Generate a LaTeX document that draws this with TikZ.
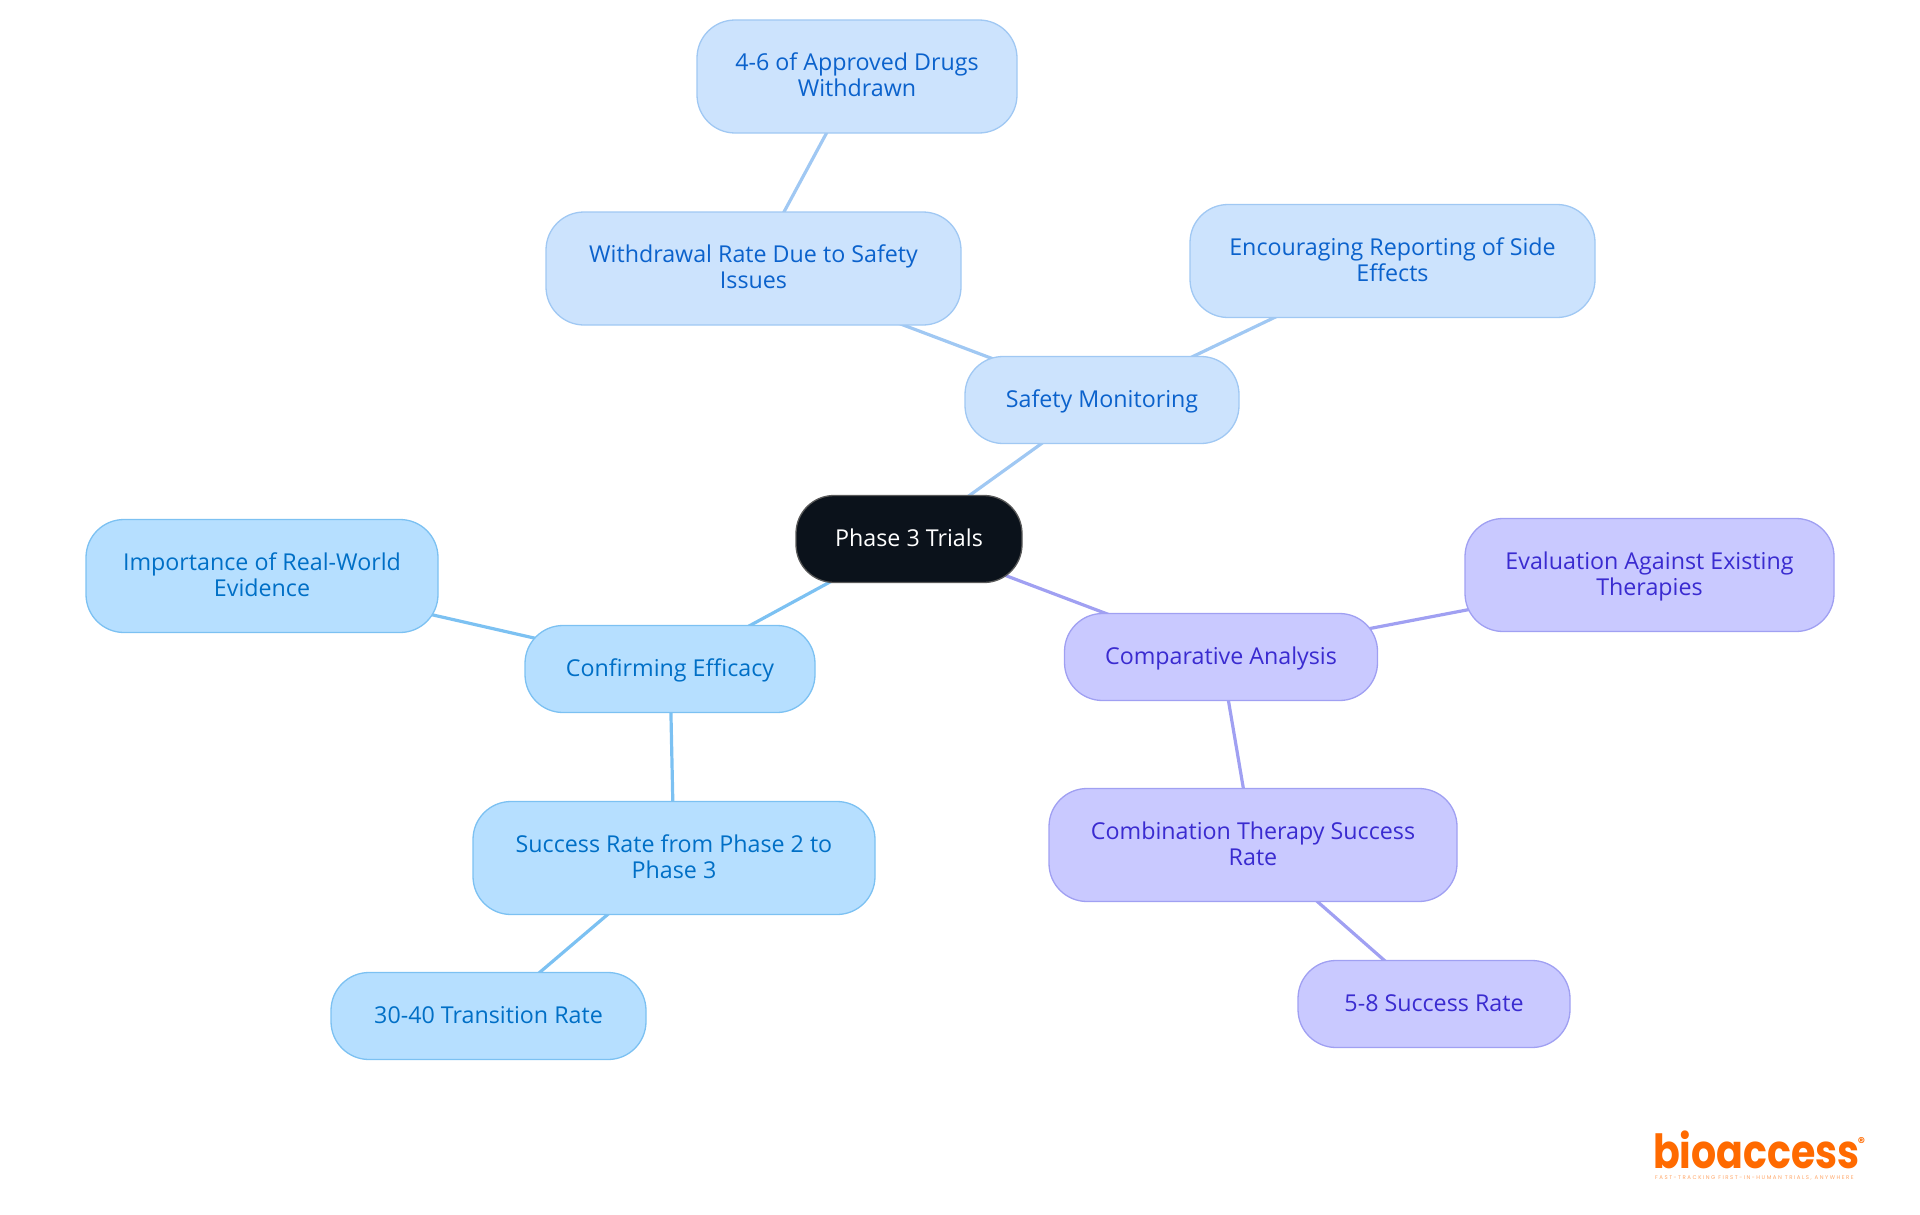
\documentclass[tikz,border=0pt]{standalone}
\usepackage{fontspec}
\setmainfont{Open Sans}
\newfontfamily\logofont{Poppins}
\newfontfamily\tagfont[LetterSpace=28]{Poppins}
\usetikzlibrary{positioning,backgrounds}
\definecolor{safetyfill}{HTML}{CCE3FD}
\definecolor{safetyline}{HTML}{A0C8F3}
\definecolor{safetytext}{HTML}{0B62CC}
\definecolor{efficacyfill}{HTML}{B6DFFF}
\definecolor{efficacyline}{HTML}{7CC1F2}
\definecolor{efficacytext}{HTML}{006FC6}
\definecolor{compfill}{HTML}{C9C9FF}
\definecolor{compline}{HTML}{A0A0F2}
\definecolor{comptext}{HTML}{3A2BD0}
\definecolor{rootfill}{HTML}{0B121B}
\definecolor{logoorange}{HTML}{FF6A00}

\begin{document}
\begin{tikzpicture}[x=1pt, y=-1pt, on grid]
% Definition of blocks:
\tikzset{%
  block/.style    = {draw, line width=1.3pt, rectangle, rounded corners=38pt, align=center, font=\fontsize{23.25}{26}\selectfont},
  short/.style    = {block, minimum height=87pt, text height=19pt, text depth=4.6pt},
  tall/.style     = {block, minimum height=113pt, text depth=3.2pt},
  safety/.style   = {fill=safetyfill, draw=safetyline, text=safetytext},
  efficacy/.style = {fill=efficacyfill, draw=efficacyline, text=efficacytext},
  comp/.style     = {fill=compfill, draw=compline, text=comptext},
  hub/.style      = {short, fill=rootfill, draw=black!65, text=white, minimum width=226pt},
  link/.style     = {line width=3.2pt}
}
\useasboundingbox (0,0) rectangle (1920,1215);
\draw
	node [hub] (root) at (909,539) {Phase 3 Trials}
	node [short, safety, minimum width=274pt, above right = 139pt and 193pt of root] (safety) {Safety Monitoring}
	node [tall, safety, minimum width=415pt, above left = 131.5pt and 348.5pt of safety] (withdrawal) {Withdrawal Rate Due to Safety\\Issues}
	node [tall, safety, minimum width=320pt, above right = 192pt and 103.5pt of withdrawal] (drugs) {4-6 of Approved Drugs\\Withdrawn}
	node [tall, safety, minimum width=405pt, above right = 139pt and 290.5pt of safety] (reporting) {Encouraging Reporting of Side\\Effects}
	node [short, comp, minimum width=313pt, below right = 118pt and 312pt of root] (comparative) {Comparative Analysis}
	node [tall, comp, minimum width=369pt, above right = 82pt and 428.5pt of comparative] (existing) {Evaluation Against Existing\\Therapies}
	node [tall, comp, minimum width=408pt, below right = 188pt and 32pt of comparative] (combination) {Combination Therapy Success\\Rate}
	node [short, comp, minimum width=272pt, below right = 159pt and 181pt of combination] (combrate) {5-8 Success Rate}
	node [short, efficacy, minimum width=290pt, below left = 130pt and 239pt of root] (efficacy) {Confirming Efficacy}
	node [tall, efficacy, minimum width=352pt, above left = 93pt and 408pt of efficacy] (evidence) {Importance of Real-World\\Evidence}
	node [tall, efficacy, minimum width=402pt, below right = 189pt and 4pt of efficacy] (success) {Success Rate from Phase 2 to\\Phase 3}
	node [short, efficacy, minimum width=315pt, below left = 158pt and 185.5pt of success] (transition) {30-40 Transition Rate};

% Logo
\node [anchor=base west, inner sep=0pt, text=logoorange, xscale=0.84, font=\logofont\bfseries\fontsize{47}{47}\selectfont] (logo) at (1653,1168) {bioaccess};
\node [anchor=center, inner sep=0pt, text=logoorange, font=\logofont\bfseries\fontsize{14}{14}\selectfont] (logomark) at (1861.5,1142) {®};
\node [anchor=base west, inner sep=0pt, text=logoorange!60, font=\tagfont\fontsize{5.4}{6}\selectfont] (tagline) at (1655,1179.5) {FAST-TRACKING FIRST-IN-HUMAN TRIALS, ANYWHERE};

\begin{scope}[on background layer]
	\draw[link, safetyline](root.center) -- (safety.center);
	\draw[link, safetyline](safety.center) -- (withdrawal.center);
	\draw[link, safetyline](withdrawal.center) -- (drugs.center);
	\draw[link, safetyline](safety.center) -- (reporting.center);
	\draw[link, compline](root.center) -- (comparative.center);
	\draw[link, compline](comparative.center) -- (existing.center);
	\draw[link, compline](comparative.center) -- (combination.center);
	\draw[link, compline](combination.center) -- (combrate.center);
	\draw[link, efficacyline](root.center) -- (efficacy.center);
	\draw[link, efficacyline](efficacy.center) -- (evidence.center);
	\draw[link, efficacyline](efficacy.center) -- (success.center);
	\draw[link, efficacyline](success.center) -- (transition.center);
\end{scope}
	%
\end{tikzpicture}
\end{document}
